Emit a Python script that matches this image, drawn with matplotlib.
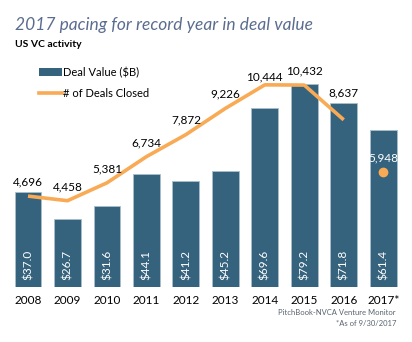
import matplotlib
matplotlib.use("Agg")
from matplotlib import pyplot as plt
from matplotlib.patches import Patch
from matplotlib.lines import Line2D

years = ["2008", "2009", "2010", "2011", "2012", "2013", "2014", "2015", "2016", "2017*"]
deal_value = [37.0, 26.7, 31.6, 44.1, 41.2, 45.2, 69.6, 79.2, 71.8, 61.4]
deals_closed = [4696, 4458, 5381, 6734, 7872, 9226, 10444, 10432, 8637, 5948]

bar_color = "#35627d"
line_color = "#f9aa55"

plt.rcParams["font.family"] = ["Lato", "DejaVu Sans"]

fig = plt.figure(figsize=(4.12, 3.42), dpi=100)
W, H = 412, 342
# baseline at y=287px, top at 69px
ax = fig.add_axes([0, 55 / H, 1, 218 / H])
ax.set_xlim(-0.71, 9.73)
ax.set_ylim(0, 85)

x = list(range(len(years)))
ax.bar(x, deal_value, width=0.68, color=bar_color, edgecolor="#a9bfcc", linewidth=0.6)
for i, v in enumerate(deal_value):
    ax.text(i, 2.6, "${:.1f}".format(v), rotation=90, ha="center", va="bottom",
            color="white", fontsize=8.5)

ax2 = ax.twinx()
ax2.set_ylim(0, 85 * 132.5)
ax2.plot(x[:9], deals_closed[:9], color=line_color, lw=2.6, solid_capstyle="butt")
ax2.plot(x[9], deals_closed[9], "o", color=line_color, ms=6)
for i, v in enumerate(deals_closed):
    col = "white" if i == 9 else "black"
    off = 450
    if i == 6:
        off = 150   # 2014 label sits closer to the line
    elif i == 8:
        off = 1100  # 2016 label lifted above the bar
    ax2.text(i, v + off, "{:,}".format(v), ha="center", va="bottom", fontsize=8.5, color=col)

for a in (ax, ax2):
    for s in a.spines.values():
        s.set_visible(False)
    a.set_yticks([])
ax.set_xticks(x)
ax.set_xticklabels(years, fontsize=8.5)
ax.tick_params(axis="x", length=0, pad=6)

fig.text(15 / W, 1 - 30 / H, "2017 pacing for record year in deal value", fontsize=12.5,
         style="italic", color="#5b6d8f", va="baseline")
fig.text(15 / W, 1 - 47 / H, "US VC activity", fontsize=7.5, fontweight="bold",
         color="black", va="baseline")

handles = [Patch(facecolor=bar_color, edgecolor="none"),
           Line2D([0], [0], color=line_color, lw=2.6)]
fig.legend(handles, ["Deal Value ($B)", "# of Deals Closed"], loc="upper left",
           bbox_to_anchor=(29 / W, 1 - 57 / H), frameon=False, fontsize=8,
           handlelength=2.1, handletextpad=0.1, labelspacing=0.9)

fig.text(396 / W, 1 - 315 / H, "PitchBook-NVCA Venture Monitor", fontsize=5.5,
         color="#5a6470", ha="right", va="baseline")
fig.text(396 / W, 1 - 326 / H, "*As of 9/30/2017", fontsize=5.5,
         color="#5a6470", ha="right", va="baseline")

fig.savefig("out.png", dpi=100)
